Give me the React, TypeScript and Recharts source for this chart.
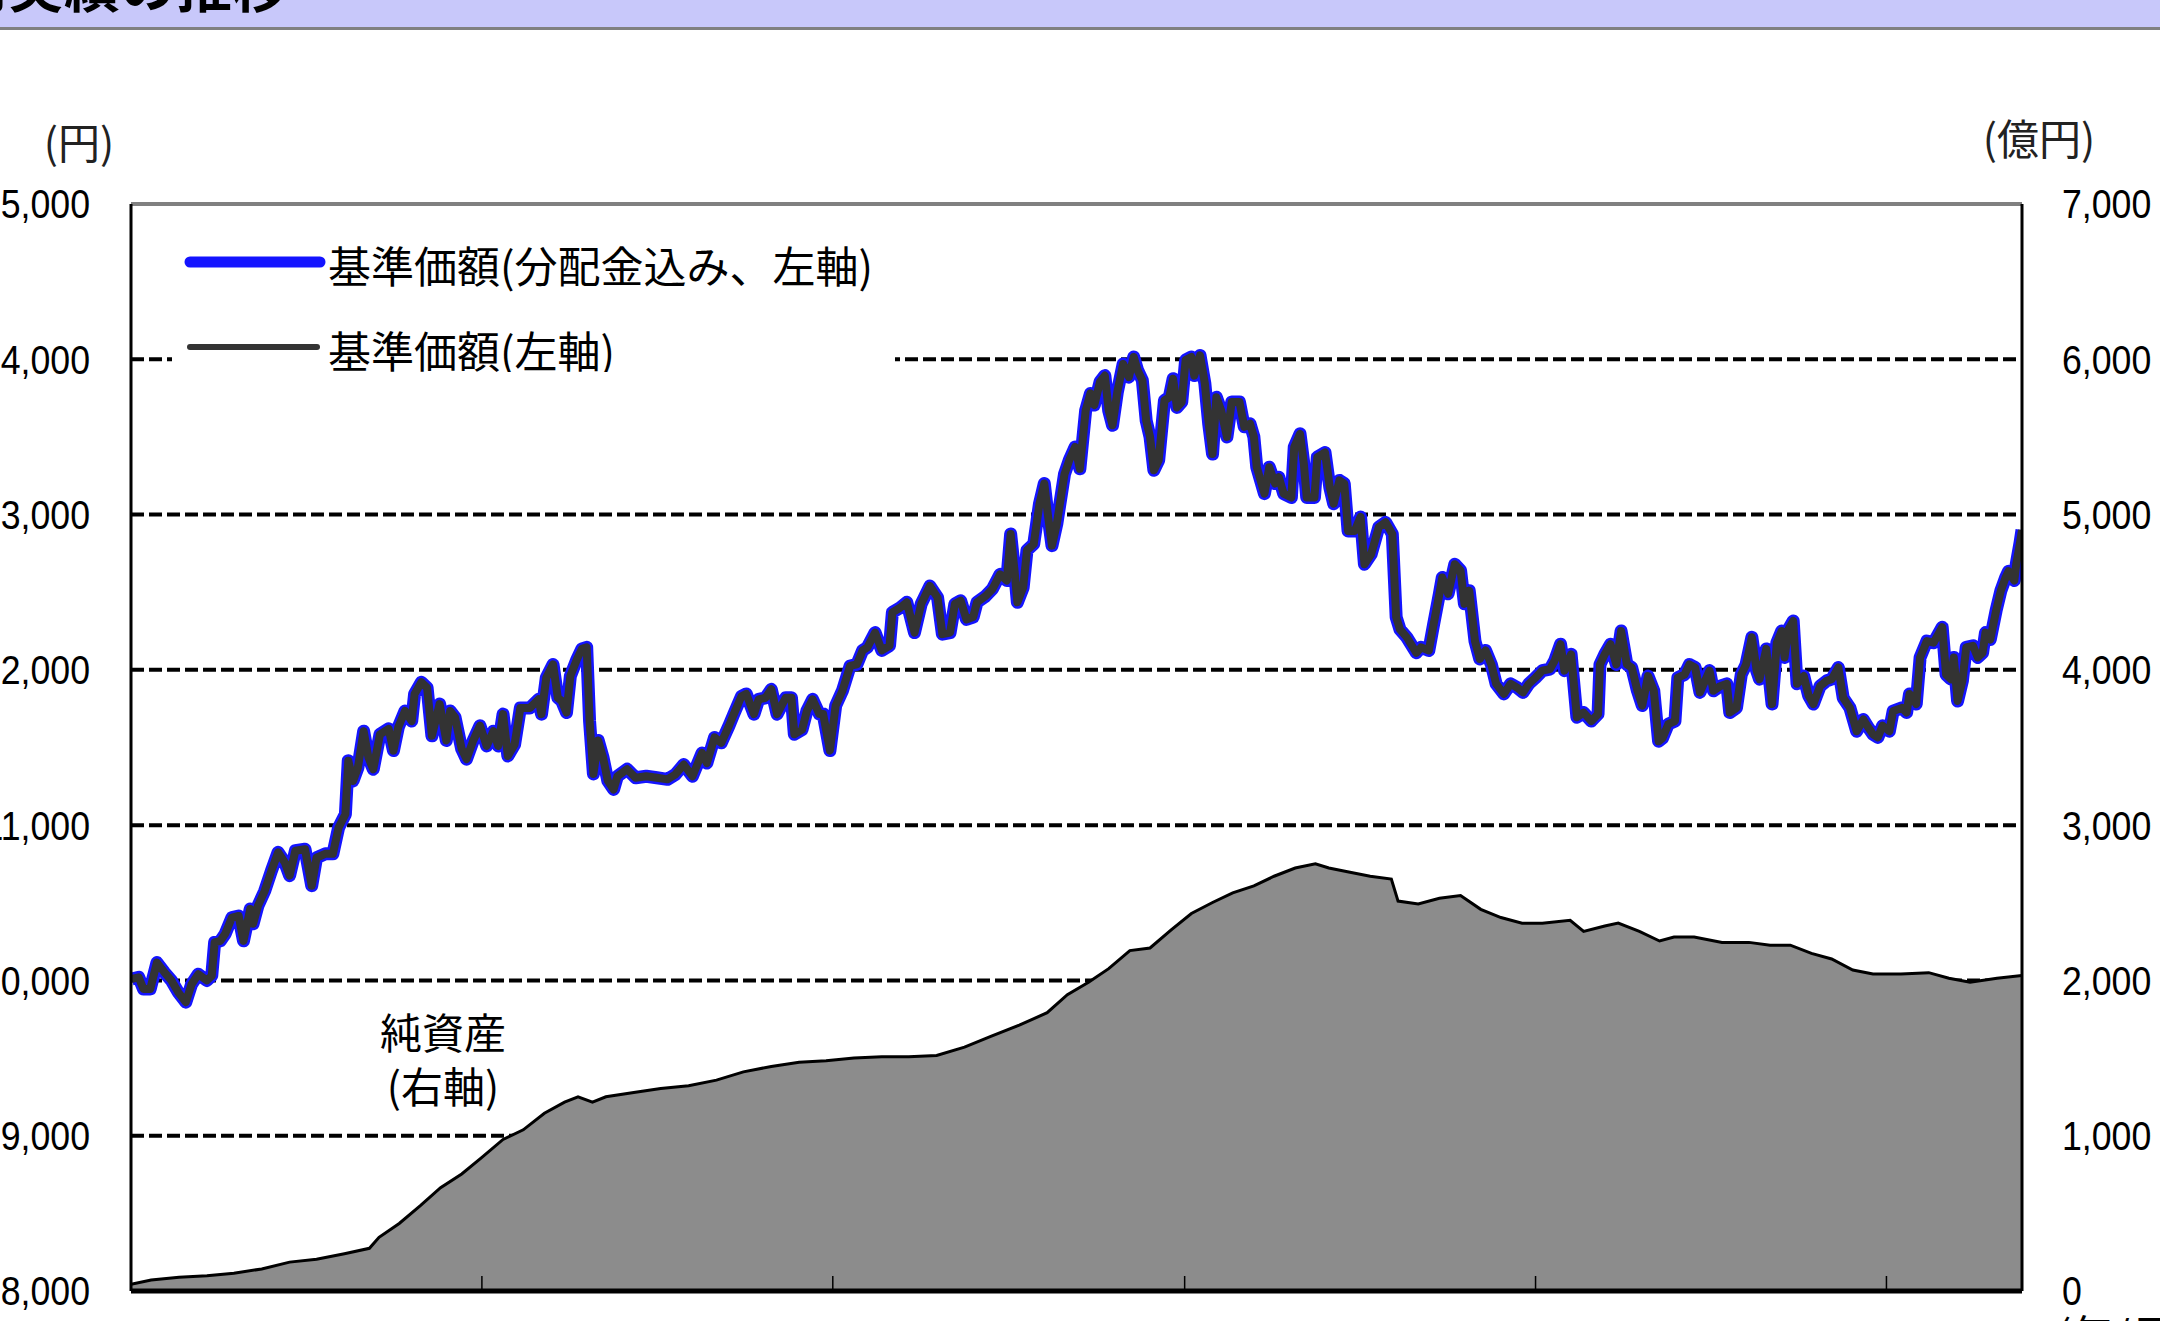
import React from 'react';
import { ComposedChart, Line, Area, XAxis, YAxis, CartesianGrid, ReferenceLine, Legend } from 'recharts';

// 基準価額: observation day (days from start) and value (円)
const navDays = [
  0, 1, 8, 13, 20, 27, 35, 42, 49, 57,
  63, 70, 79, 84, 87, 93, 98, 105, 112, 117,
  124, 127, 132, 139, 146, 153, 160, 165, 171, 181,
  188, 193, 202, 210, 216, 223, 226, 231, 236, 242,
  247, 252, 259, 268, 273, 278, 285, 292, 295, 302,
  308, 313, 321, 328, 332, 337, 344, 349, 356, 363,
  370, 377, 382, 387, 392, 399, 405, 415, 424, 427,
  432, 439, 444, 448, 453, 457, 464, 469, 474, 477,
  481, 486, 491, 496, 502, 506, 516, 525, 536, 547,
  558, 566, 575, 584, 594, 599, 607, 614, 622, 627,
  635, 640, 648, 653, 660, 666, 672, 681, 687, 690,
  698, 703, 709, 716, 720, 727, 733, 740, 748, 755,
  761, 766, 774, 781, 789, 792, 800, 807, 815, 822,
  831, 839, 844, 852, 857, 863, 869, 876, 880, 889,
  896, 904, 911, 915, 919, 922, 928, 932, 939, 945,
  950, 954, 958, 963, 971, 976, 982, 987, 993, 998,
  1002, 1008, 1013, 1017, 1021, 1026, 1032, 1038, 1043, 1047,
  1052, 1056, 1060, 1064, 1069, 1075, 1080, 1084, 1088, 1093,
  1097, 1103, 1106, 1112, 1117, 1121, 1125, 1129, 1134, 1140,
  1145, 1153, 1158, 1164, 1168, 1171, 1179, 1184, 1190, 1194,
  1199, 1207, 1210, 1216, 1220, 1223, 1231, 1234, 1242, 1247,
  1251, 1257, 1262, 1266, 1273, 1279, 1283, 1290, 1298, 1305,
  1312, 1316, 1320, 1327, 1337, 1342, 1350, 1355, 1361, 1364,
  1370, 1377, 1383, 1387, 1392, 1398, 1403, 1409, 1415, 1420,
  1428, 1435, 1442, 1448, 1454, 1461, 1468, 1476, 1481, 1487,
  1491, 1498, 1504, 1511, 1519, 1526, 1528, 1533, 1539, 1545,
  1550, 1556, 1561, 1567, 1572, 1578, 1584, 1589, 1593, 1599,
  1606, 1609, 1616, 1621, 1627, 1632, 1642, 1646, 1653, 1660,
  1663, 1670, 1675, 1680, 1686, 1691, 1694, 1701, 1707, 1712,
  1717, 1720, 1724, 1729, 1733, 1740, 1745, 1750, 1757, 1764,
  1769, 1776, 1781, 1788, 1795, 1802, 1807, 1812, 1817, 1822,
  1829, 1833, 1842, 1847, 1850, 1857, 1861, 1868, 1875, 1884,
  1888, 1893, 1896, 1900, 1905, 1909, 1916, 1921, 1926, 1929,
  1934, 1940, 1945, 1950, 1953, 1959, 1961, 1965, 1967,
];

const navValues = [
  10000, 10010, 10020, 9945, 9945, 10115, 10050, 10000, 9925, 9860,
  9975, 10040, 10000, 10030, 10245, 10255, 10300, 10405, 10415, 10255,
  10460, 10365, 10480, 10575, 10705, 10825, 10760, 10675, 10835, 10845,
  10610, 10790, 10815, 10815, 10985, 11070, 11415, 11285, 11370, 11605,
  11435, 11360, 11585, 11620, 11480, 11630, 11735, 11670, 11845, 11920,
  11885, 11575, 11780, 11545, 11735, 11695, 11490, 11425, 11545, 11640,
  11510, 11605, 11510, 11715, 11445, 11520, 11755, 11755, 11810, 11715,
  11950, 12035, 11820, 11800, 11725, 11960, 12070, 12135, 12145, 11670,
  11330, 11545, 11435, 11285, 11230, 11315, 11360, 11305, 11315, 11305,
  11295, 11325, 11390, 11315, 11465, 11400, 11565, 11530, 11640, 11715,
  11830, 11845, 11715, 11810, 11820, 11875, 11715, 11820, 11820, 11585,
  11615, 11735, 11810, 11715, 11715, 11480, 11770, 11865, 12025, 12035,
  12125, 12145, 12240, 12125, 12155, 12370, 12400, 12435, 12240, 12425,
  12540, 12465, 12230, 12240, 12425, 12445, 12325, 12340, 12435, 12475,
  12520, 12615, 12575, 12875, 12640, 12435, 12530, 12770, 12810, 13070,
  13200, 12985, 12800, 12940, 13260, 13350, 13435, 13295, 13670, 13780,
  13705, 13855, 13895, 13670, 13575, 13790, 13970, 13885, 14015, 13930,
  13865, 13605, 13500, 13285, 13350, 13735, 13755, 13875, 13690, 13725,
  13995, 14015, 13895, 14025, 13845, 13585, 13390, 13755, 13670, 13500,
  13725, 13725, 13565, 13585, 13500, 13305, 13135, 13305, 13200, 13240,
  13135, 13110, 13435, 13520, 13325, 13110, 13110, 13370, 13400, 13175,
  13070, 13220, 13200, 12895, 12895, 12985, 12680, 12745, 12920, 12950,
  12875, 12340, 12260, 12210, 12110, 12145, 12125, 12295, 12490, 12595,
  12490, 12680, 12640, 12425, 12510, 12185, 12070, 12125, 12035, 11910,
  11845, 11910, 11885, 11855, 11910, 11950, 11995, 12005, 12060, 12165,
  11995, 12100, 11695, 11725, 11670, 11715, 12035, 12100, 12165, 12035,
  12250, 12035, 12015, 11865, 11770, 11960, 11865, 11540, 11560, 11650,
  11670, 11950, 11970, 12035, 12015, 11855, 11995, 11865, 11895, 11910,
  11725, 11755, 11970, 12035, 12210, 11995, 11940, 12135, 11780, 12175,
  12250, 12080, 12260, 12315, 11910, 11960, 11835, 11780, 11895, 11930,
  11940, 12015, 11820, 11755, 11605, 11680, 11630, 11585, 11565, 11640,
  11605, 11735, 11755, 11725, 11845, 11780, 12080, 12185, 12175, 12275,
  11970, 11940, 12080, 11800, 11930, 12145, 12155, 12080, 12110, 12240,
  12195, 12380, 12510, 12595, 12635, 12575, 12680, 12820, 12900,
];

// 基準価額(分配金込み) coincides with 基準価額 over the whole period
const navWithDistValues = navValues;

// 純資産 (億円)
const aumDays = [
  0, 21, 50, 79, 107, 136, 165, 193, 222, 248,
  258, 279, 301, 322, 344, 365, 387, 408, 430, 451,
  465, 480, 494, 523, 551, 580, 609, 637, 666, 695,
  723, 752, 781, 809, 838, 867, 895, 924, 953, 974,
  996, 1017, 1039, 1060, 1082, 1103, 1125, 1146, 1168, 1189,
  1211, 1232, 1246, 1268, 1289, 1311, 1318, 1339, 1361, 1383,
  1404, 1425, 1447, 1468, 1497, 1511, 1533, 1547, 1569, 1590,
  1605, 1626, 1655, 1683, 1705, 1726, 1748, 1769, 1791, 1812,
  1841, 1870, 1891, 1913, 1941, 1967,
];
const aumValues = [
  44, 71, 89, 98, 115, 142, 186, 204, 240, 275,
  346, 435, 550, 665, 754, 861, 976, 1038, 1145, 1216,
  1251, 1216, 1251, 1278, 1304, 1322, 1358, 1411, 1446, 1473,
  1482, 1500, 1508, 1508, 1517, 1570, 1641, 1712, 1792, 1908,
  1988, 2076, 2192, 2209, 2325, 2431, 2502, 2564, 2609, 2671,
  2724, 2751, 2724, 2697, 2671, 2653, 2511, 2493, 2529, 2547,
  2458, 2405, 2369, 2369, 2387, 2316, 2351, 2369, 2316, 2254,
  2280, 2280, 2245, 2245, 2227, 2227, 2174, 2138, 2067, 2041,
  2041, 2050, 2014, 1988, 2014, 2032,
];

const leftTicks = [8000, 9000, 10000, 11000, 12000, 13000, 14000, 15000];
const rightTicks = [0, 1000, 2000, 3000, 4000, 5000, 6000, 7000];
const xTicks = [365, 730, 1096, 1461, 1826];
const xDomain = [0, 1967];

const seriesNames = ['基準価額(分配金込み、左軸)', '基準価額(左軸)'];
const aumLabelLines = ['純資産', '(右軸)'];
const titleText = '運用実績の推移';
const leftUnit = '(円)';
const rightUnit = '(億円)';
const xUnit = '(年/月)';

const navData = navDays.map((d, i) => ({ day: d, navDist: navWithDistValues[i], nav: navValues[i] }));
const aumData = aumDays.map((d, i) => ({ day: d, aum: aumValues[i] }));

const JP = '"Noto Sans CJK JP", "Noto Sans", sans-serif';
const NUM = '"Liberation Sans", Arial, sans-serif';
const fmt = (v: number) => v.toLocaleString('en-US');

const LeftTick = (p: any) => (
  <text
    transform={`translate(${p.x},${p.y}) scale(0.87,1)`}
    textAnchor="end"
    dominantBaseline="central"
    fontSize={41}
    fontFamily={NUM}
    fill="#000"
  >
    {fmt(p.payload.value)}
  </text>
);

const RightTick = (p: any) => (
  <text
    transform={`translate(${p.x},${p.y}) scale(0.87,1)`}
    textAnchor="start"
    dominantBaseline="central"
    fontSize={41}
    fontFamily={NUM}
    fill="#000"
  >
    {fmt(p.payload.value)}
  </text>
);

const XTick = (p: any) => (
  <line x1={p.x} x2={p.x} y1={p.y - 15} y2={p.y} stroke="#000" strokeWidth={1.5} />
);

const LegendBox = () => (
  <svg width={723} height={157} style={{ display: 'block', background: '#fff' }}>
    <line x1={18} x2={148} y1={47} y2={47} stroke="#1414ff" strokeWidth={11} strokeLinecap="round" />
    <text x={156} y={49} fontSize={43} fontFamily={JP} dominantBaseline="central" fill="#000">
      {seriesNames[0]}
    </text>
    <line x1={18} x2={145} y1={132} y2={132} stroke="#333" strokeWidth={6} strokeLinecap="round" />
    <text x={156} y={134} fontSize={43} fontFamily={JP} dominantBaseline="central" fill="#000">
      {seriesNames[1]}
    </text>
  </svg>
);

export default function App() {
  return (
    <div
      style={{
        position: 'absolute',
        left: 0,
        top: 0,
        width: 2160,
        height: 1321,
        overflow: 'hidden',
        background: '#fff',
      }}
    >
      <ComposedChart width={2160} height={1340} margin={{ top: 204, right: 0, bottom: 29, left: 0 }}>
        <CartesianGrid
          yAxisId="left"
          vertical={false}
          stroke="#000"
          strokeWidth={4}
          strokeDasharray="13 5"
        />
        <XAxis
          type="number"
          dataKey="day"
          domain={xDomain}
          ticks={xTicks}
          interval={0}
          allowDataOverflow
          height={20}
          tickSize={0}
          tickMargin={0}
          tickLine={false}
          axisLine={{ stroke: '#000', strokeWidth: 5 }}
          tick={(p: any) => <XTick {...p} />}
        />
        <YAxis
          yAxisId="left"
          domain={[8000, 15000]}
          ticks={leftTicks}
          interval={0}
          width={131}
          tickSize={0}
          tickMargin={41}
          tickLine={false}
          axisLine={{ stroke: '#000', strokeWidth: 3 }}
          tick={(p: any) => <LeftTick {...p} />}
        />
        <YAxis
          yAxisId="right"
          orientation="right"
          domain={[0, 7000]}
          ticks={rightTicks}
          interval={0}
          width={138}
          tickSize={0}
          tickMargin={40}
          tickLine={false}
          axisLine={{ stroke: '#000', strokeWidth: 3 }}
          tick={(p: any) => <RightTick {...p} />}
        />
        <Area
          yAxisId="right"
          data={aumData}
          dataKey="aum"
          type="linear"
          fill="#8c8c8c"
          fillOpacity={1}
          stroke="#000"
          strokeWidth={3}
          isAnimationActive={false}
          legendType="none"
          name="純資産(右軸)"
        />
        <Line
          yAxisId="left"
          data={navData}
          dataKey="navDist"
          type="linear"
          stroke="#1414ff"
          strokeWidth={13}
          strokeLinejoin="round"
          dot={false}
          activeDot={false}
          isAnimationActive={false}
          name={seriesNames[0]}
        />
        <Line
          yAxisId="left"
          data={navData}
          dataKey="nav"
          type="linear"
          stroke="#333333"
          strokeWidth={8}
          strokeLinejoin="round"
          dot={false}
          activeDot={false}
          isAnimationActive={false}
          name={seriesNames[1]}
        />
        <ReferenceLine yAxisId="left" y={15000} stroke="#808080" strokeWidth={4} />
        <Legend
          layout="horizontal"
          verticalAlign="middle"
          align="center"
          wrapperStyle={{ position: 'absolute', left: 172, top: 215, width: 723, height: 157, background: '#fff' }}
          content={() => <LegendBox />}
        />
      </ComposedChart>

      <svg
        width={2160}
        height={1321}
        style={{ position: 'absolute', left: 0, top: 0, pointerEvents: 'none' }}
      >
        <rect x={0} y={0} width={2160} height={27} fill="#c8c8fa" />
        <line x1={0} x2={2160} y1={28.5} y2={28.5} stroke="#808080" strokeWidth={3} />
        <text x={-104} y={7} fontSize={56} fontWeight="bold" fontFamily={JP} fill="#000">
          {titleText}
        </text>
        <text x={79} y={140} fontSize={42} fontFamily={JP} textAnchor="middle" dominantBaseline="central" fill="#222">
          {leftUnit}
        </text>
        <text x={2039} y={136} fontSize={42} fontFamily={JP} textAnchor="middle" dominantBaseline="central" fill="#222">
          {rightUnit}
        </text>
        <text x={443} y={1030} fontSize={42} fontFamily={JP} textAnchor="middle" dominantBaseline="central" fill="#000">
          {aumLabelLines[0]}
        </text>
        <text x={443} y={1084} fontSize={42} fontFamily={JP} textAnchor="middle" dominantBaseline="central" fill="#000">
          {aumLabelLines[1]}
        </text>
        <text x={2057} y={1332} fontSize={42} fontFamily={JP} dominantBaseline="central" fill="#000">
          {xUnit}
        </text>
      </svg>
    </div>
  );
}
